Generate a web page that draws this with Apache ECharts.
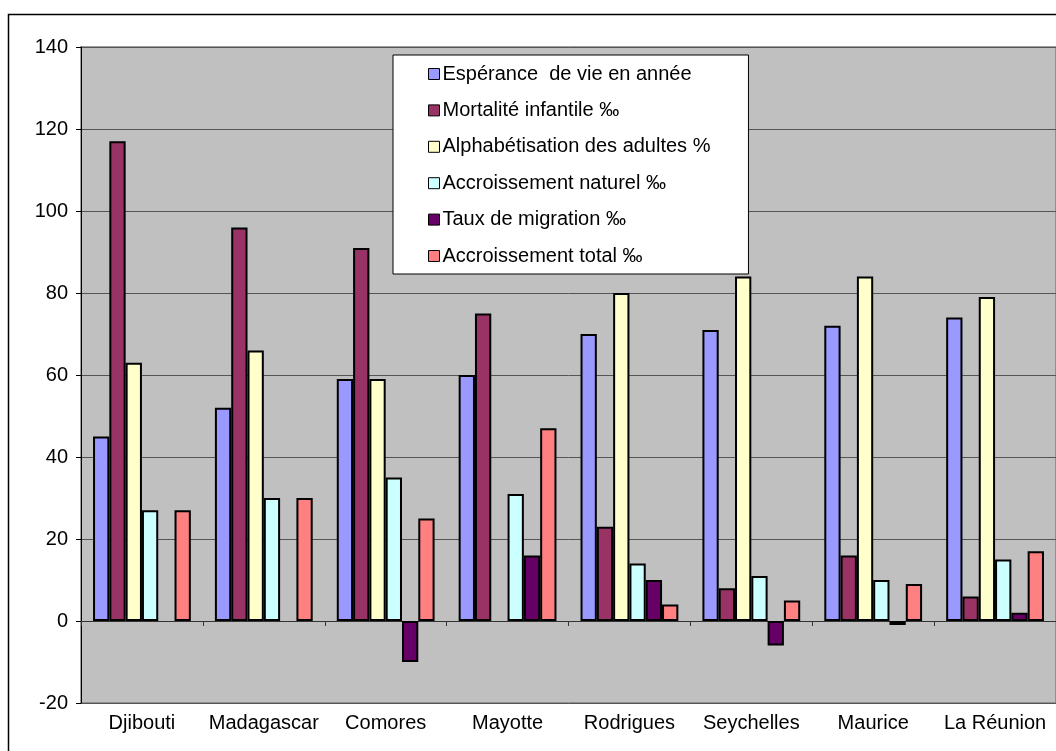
<!DOCTYPE html>
<html><head><meta charset="utf-8">
<script src="https://cdn.jsdelivr.net/npm/echarts@6/dist/echarts.min.js"></script>
<style>html,body{margin:0;padding:0;background:#fff;}#c{width:1056px;height:751px;}</style>
</head><body><div id="c"></div>
<script>
const categories = ['Djibouti','Madagascar','Comores','Mayotte','Rodrigues','Seychelles','Maurice','La Réunion'];
const seriesNames = ['Espérance  de vie en année','Mortalité infantile ‰','Alphabétisation des adultes %','Accroissement naturel ‰','Taux de migration ‰','Accroissement total ‰'];
const esperance = [45, 52, 59, 60, 70, 71, 72, 74];
const mortalite = [117, 96, 91, 75, 23, 8, 16, 6];
const alphabetisation = [63, 66, 59, null, 80, 84, 84, 79];
const accroissementNaturel = [27, 30, 35, 31, 14, 11, 10, 15];
const migration = [null, null, -10, 16, 10, -6, -1, 2];
const accroissementTotal = [27, 30, 25, 47, 4, 5, 9, 17];
const yTicks = {min: -20, max: 140, interval: 20};

const values = [esperance, mortalite, alphabetisation, accroissementNaturel, migration, accroissementTotal];
const colors = ['#9999FF','#993366','#FFFFCC','#CCFFFF','#660066','#FF8080'];
const font = 'Liberation Sans, Arial, Helvetica, sans-serif';

const chart = echarts.init(document.getElementById('c'));
chart.setOption({
  animation: false,
  graphic: [{type:'rect', z: -10, shape:{x:8.5, y:14.5, width:1100, height:800}, style:{fill:'none', stroke:'#000', lineWidth:1.5}}],
  grid: {left: 81, top: 47, width: 976, height: 656, show: true, backgroundColor: '#C0C0C0', borderColor: '#808080', borderWidth: 1.5},
  legend: {
    orient: 'vertical', left: 393, top: 55,
    backgroundColor: '#fff', borderColor: '#000', borderWidth: 1,
    padding: [9, 38, 8, 35], itemGap: 16.4, itemWidth: 11, itemHeight: 11,
    icon: 'rect',
    itemStyle: {borderColor: '#000', borderWidth: 1},
    textStyle: {fontFamily: font, fontSize: 20, color: '#000', padding: [0,0,0,-2]},
    data: seriesNames
  },
  xAxis: [
    {type: 'category', data: categories, position: 'bottom',
     axisLine: {show: false, onZero: false}, axisTick: {show: false},
     axisLabel: {interval: 0, fontFamily: font, fontSize: 20, color: '#000', margin: 10}},
    {type: 'category', data: categories, position: 'top',
     axisLine: {show: true, onZero: true, lineStyle: {color: '#333', width: 1}},
     axisTick: {show: true, inside: true, length: 5, lineStyle: {color: '#333'}},
     axisLabel: {show: false}}
  ],
  yAxis: {type: 'value', min: yTicks.min, max: yTicks.max, interval: yTicks.interval,
    axisLine: {show: true, lineStyle: {color: '#000', width: 1}},
    axisTick: {show: true, length: 5, lineStyle: {color: '#000'}},
    axisLabel: {fontFamily: font, fontSize: 20, color: '#000', margin: 13},
    splitLine: {show: true, lineStyle: {color: '#555', width: 1}}},
  series: seriesNames.map((n, i) => ({
    name: n, type: 'bar', xAxisIndex: 0, data: values[i],
    barWidth: 16.3, barGap: '0%',
    itemStyle: {color: colors[i], borderColor: '#000', borderWidth: 2}
  }))
});
</script></body></html>
